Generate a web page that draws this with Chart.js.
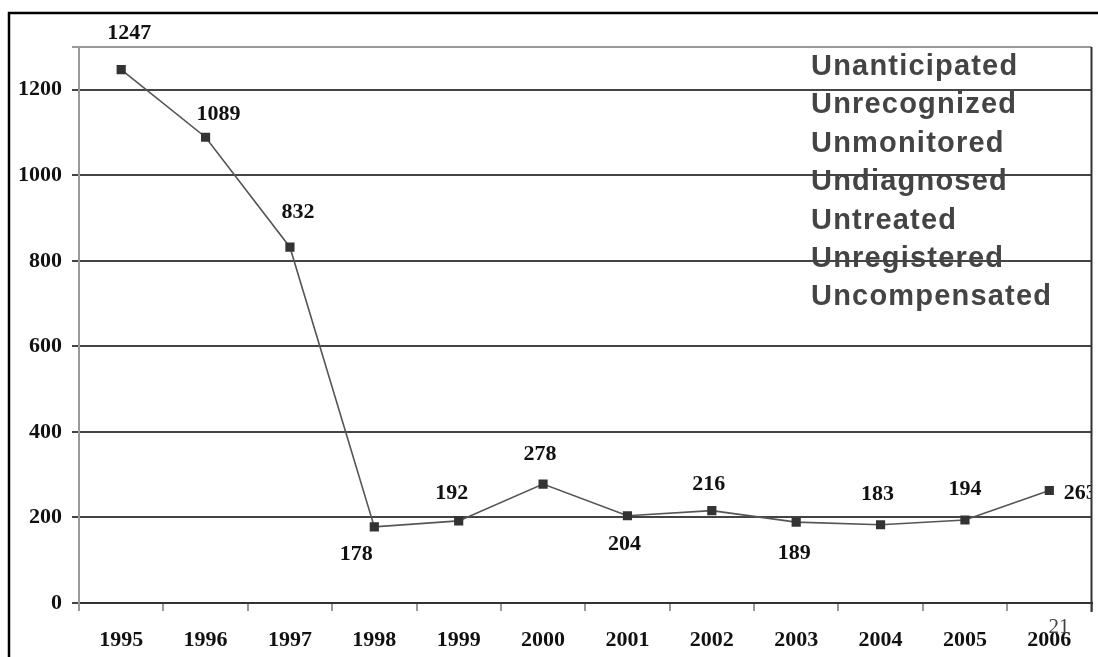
<!DOCTYPE html>
<html>
<head>
<meta charset="utf-8">
<script src="https://cdn.jsdelivr.net/npm/chart.js@4/dist/chart.umd.min.js"></script>
<style>
  html, body { margin: 0; padding: 0; background: #fff; }
  #wrap { width: 1098px; height: 657px; }
</style>
</head>
<body>
<div id="wrap"><canvas id="chart" width="1098" height="657"></canvas></div>
<script>
const years = ["1995", "1996", "1997", "1998", "1999", "2000", "2001", "2002", "2003", "2004", "2005", "2006"];
const cases = [1247, 1089, 832, 178, 192, 278, 204, 216, 189, 183, 194, 263];
const yTicks = [0, 200, 400, 600, 800, 1000, 1200];
const words = ["Unanticipated", "Unrecognized", "Unmonitored", "Undiagnosed", "Untreated", "Unregistered", "Uncompensated"];
const pageNo = "21";

// where each value label sits, relative to its point (px)
const labelShift = [[8, -36], [13, -23], [8, -35], [-18, 27], [-7, -28], [-3, -30],
                    [-3, 29], [-3, -26], [-2, 31], [-3, -30], [0, -31], [31, 3]];

const serif = "'Liberation Serif', 'Times New Roman', serif";

// words drawn first so the grid lines run over them, like the slide
const backText = {
    id: 'backText',
    beforeDraw(c) {
        const ctx = c.ctx;
        ctx.save();
        ctx.fillStyle = '#444';
        ctx.font = "bold 29px 'Liberation Sans', Arial, sans-serif";
        ctx.letterSpacing = '1.2px';
        ctx.textBaseline = 'alphabetic';
        words.forEach((w, i) => ctx.fillText(w, 811, 75 + i * 38.4));
        ctx.restore();
    }
};

const valueLabels = {
    id: 'valueLabels',
    afterDatasetsDraw(c) {
        const ctx = c.ctx;
        const meta = c.getDatasetMeta(0);
        ctx.save();
        ctx.beginPath();
        ctx.rect(0, 0, c.chartArea.right, c.height);
        ctx.clip();
        ctx.fillStyle = '#111';
        ctx.font = 'bold 22px ' + serif;
        ctx.textAlign = 'center';
        ctx.textBaseline = 'middle';
        meta.data.forEach((p, i) => {
            const s = labelShift[i];
            ctx.fillText(String(cases[i]), p.x + s[0], p.y + s[1]);
        });
        ctx.restore();
    },
    afterDraw(c) {
        const ctx = c.ctx;
        const a = c.chartArea;
        ctx.save();
        // right edge of the plot
        ctx.strokeStyle = '#333';
        ctx.lineWidth = 2;
        ctx.beginPath();
        ctx.moveTo(a.right, a.top);
        ctx.lineTo(a.right, a.bottom + 9);
        ctx.stroke();
        // slide frame
        ctx.strokeStyle = '#000';
        ctx.lineWidth = 2.5;
        ctx.beginPath();
        ctx.moveTo(9, 657);
        ctx.lineTo(9, 13);
        ctx.lineTo(1098, 13);
        ctx.stroke();
        // page number
        ctx.fillStyle = '#444';
        ctx.font = '21px ' + serif;
        ctx.textAlign = 'center';
        ctx.textBaseline = 'middle';
        ctx.fillText(pageNo, 1059, 627);
        ctx.restore();
    }
};

new Chart(document.getElementById('chart'), {
    type: 'line',
    data: {
        labels: years,
        datasets: [{
            data: cases,
            borderColor: '#555',
            borderWidth: 1.6,
            pointStyle: 'rect',
            pointRadius: 6.5,
            pointBackgroundColor: '#333',
            pointBorderColor: '#333',
            pointBorderWidth: 0,
            tension: 0
        }]
    },
    options: {
        responsive: false,
        animation: false,
        events: [],
        layout: { padding: { left: 0, right: 5, top: 47, bottom: 0 } },
        plugins: { legend: { display: false }, tooltip: { enabled: false } },
        scales: {
            x: {
                offset: true,
                afterFit(s) { s.height = 54; },
                grid: {
                    offset: true,
                    drawOnChartArea: false,
                    color: '#999',
                    lineWidth: 2,
                    tickLength: 8
                },
                border: { color: '#333', width: 2 },
                ticks: {
                    color: '#111',
                    padding: 16,
                    maxRotation: 0,
                    autoSkip: false,
                    font: { family: serif, size: 22, weight: 'bold' }
                }
            },
            y: {
                min: 0,
                max: 1300,
                afterFit(s) { s.width = 79; },
                afterBuildTicks(s) {
                    s.ticks = yTicks.map(v => ({ value: v })).concat([{ value: 1300 }]);
                },
                grid: {
                    color: ctx => (ctx.tick && ctx.tick.value === 1300) ? '#999' : '#444',
                    lineWidth: 2,
                    tickLength: 7
                },
                border: { color: '#999', width: 2 },
                ticks: {
                    color: '#111',
                    padding: 10,
                    font: { family: serif, size: 22, weight: 'bold' },
                    callback: v => yTicks.includes(v) ? String(v) : ''
                }
            }
        }
    },
    plugins: [backText, valueLabels]
});
</script>
</body>
</html>
